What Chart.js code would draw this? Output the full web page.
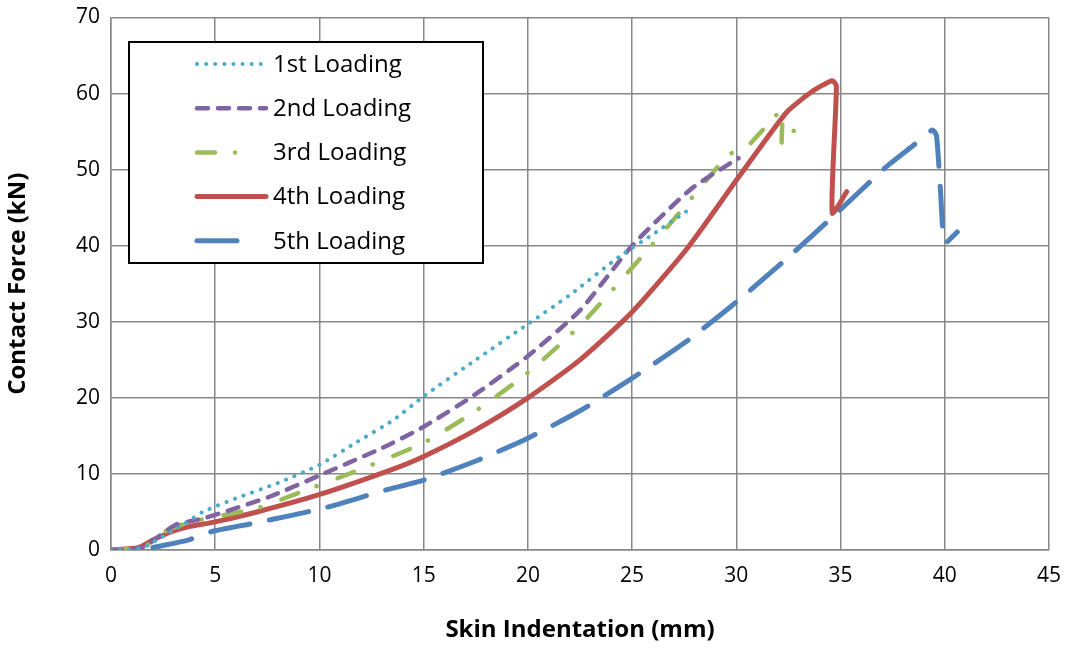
<!DOCTYPE html>
<html>
<head>
<meta charset="utf-8">
<script src="https://cdn.jsdelivr.net/npm/chart.js@4/dist/chart.umd.min.js"></script>
<style>
  html, body { margin: 0; padding: 0; background: #fff; }
  #wrap { width: 1068px; height: 649px; }
</style>
</head>
<body>
<div id="wrap"><canvas id="c" width="1068" height="649"></canvas></div>
<script>
  // series: x = skin indentation (mm), y = contact force (kN)
  const seriesNames = ["1st Loading", "2nd Loading", "3rd Loading", "4th Loading", "5th Loading"];

  const load1X = [0, 1.5, 2.5, 3.5, 4.4, 6, 8, 10, 11.8, 13.5, 15, 17.5, 20, 22, 24.4, 26, 27.6];
  const load1Y = [0, 0.3, 1.8, 3.4, 5.0, 6.8, 8.8, 11.2, 14.2, 17.0, 20.2, 25.0, 29.7, 33.5, 38.6, 41.5, 44.5];

  const load2X = [0, 1.5, 2.3, 3.1, 4.5, 7.6, 10, 13, 15, 17.5, 20, 22.5, 25, 27.8, 29.8, 30.1];
  const load2Y = [0, 0.3, 1.8, 3.3, 4.2, 7.0, 9.8, 13.4, 16.2, 20.5, 25.5, 31.5, 40.0, 47.4, 51.0, 51.5];

  const load3X = [0, 1.5, 2.2, 2.7, 4, 7, 9, 11.5, 15, 17.5, 20, 22.5, 24.9, 26.3, 28.6, 29.4, 30.0, 30.5, 30.8, 31.6, 32.2, 32.2, 33.0];
  const load3Y = [0, 0.3, 1.5, 2.6, 3.8, 5.5, 7.5, 10.1, 14.1, 18.3, 23.3, 29.5, 36.8, 41.2, 48.7, 51.3, 52.6, 53.0, 53.8, 56.2, 57.8, 53.3, 56.0];

  const load4X = [0, 1.3, 2, 2.9, 3.8, 5, 7, 9.9, 13.4, 15, 17.5, 20, 22.5, 25, 27.6, 30, 32.4, 33.6, 34.6, 34.8, 34.6, 35.3];
  const load4Y = [0, 0.3, 1.3, 2.4, 3.1, 3.7, 5.0, 7.2, 10.5, 12.3, 15.8, 20.0, 25.0, 31.3, 39.5, 48.6, 57.5, 60.2, 61.7, 61.0, 44.3, 47.1];

  const load5X = [0, 1.5, 2.5, 3.7, 4.8, 7, 10.2, 13.2, 15, 17.5, 20, 22.5, 24.9, 27.6, 30, 32.5, 34.9, 37.2, 38.5, 39.4, 39.6, 39.8, 40.0, 40.6];
  const load5Y = [0, 0.1, 0.6, 1.3, 2.4, 3.6, 5.5, 7.9, 9.2, 11.7, 14.7, 18.3, 22.4, 27.4, 32.6, 38.5, 44.5, 50.4, 53.2, 55.2, 54.5, 47.0, 40.4, 41.8];

  const xTicks = [0, 5, 10, 15, 20, 25, 30, 35, 40, 45];
  const yTicks = [0, 10, 20, 30, 40, 50, 60, 70];

  const FONT = "'Open Sans', 'Noto Sans', sans-serif";

  function pts(xs, ys) {
    return xs.map((x, i) => ({ x: x, y: ys[i] }));
  }

  const styles = [
    { color: "#4BACC6", width: 4, dash: [0.1, 9], offset: 0 },
    { color: "#8064A2", width: 4.5, dash: [11, 10], offset: 0 },
    { color: "#9BBB59", width: 4.5, dash: [18, 20, 0.1, 22], offset: 0 },
    { color: "#C0504D", width: 5, dash: [], offset: 0 },
    { color: "#4F81BD", width: 5, dash: [40, 20], offset: 18 }
  ];

  const allX = [load1X, load2X, load3X, load4X, load5X];
  const allY = [load1Y, load2Y, load3Y, load4Y, load5Y];

  // legend box drawn inside the plot, like the original
  const boxLegend = {
    id: "boxLegend",
    afterDatasetsDraw(chart) {
      const ctx = chart.ctx;
      ctx.save();
      ctx.fillStyle = "#fff";
      ctx.fillRect(129, 42, 354, 221);
      ctx.strokeStyle = "#000";
      ctx.lineWidth = 2;
      ctx.setLineDash([]);
      ctx.strokeRect(129, 42, 354, 221);
      seriesNames.forEach((name, i) => {
        const y = 64 + i * 44.2;
        const s = styles[i];
        ctx.beginPath();
        ctx.strokeStyle = s.color;
        ctx.lineWidth = s.width;
        ctx.lineCap = "round";
        ctx.setLineDash(s.dash);
        ctx.lineDashOffset = 0;
        ctx.moveTo(197, y);
        ctx.lineTo(i === 2 ? 246 : (i === 4 ? 244 : 266), y);
        ctx.stroke();
        ctx.setLineDash([]);
        ctx.fillStyle = "#000";
        ctx.font = "24px " + FONT;
        ctx.textBaseline = "middle";
        ctx.fillText(name, 273, y + 1);
      });
      ctx.restore();
    }
  };

  new Chart(document.getElementById("c"), {
    type: "scatter",
    data: {
      datasets: seriesNames.map((name, i) => ({
        label: name,
        data: pts(allX[i], allY[i]),
        showLine: true,
        borderColor: styles[i].color,
        borderWidth: styles[i].width,
        borderDash: styles[i].dash,
        borderDashOffset: styles[i].offset,
        borderCapStyle: "round",
        borderJoinStyle: "round",
        tension: 0.2,
        pointRadius: 0,
        pointHoverRadius: 0,
        fill: false
      }))
    },
    options: {
      responsive: false,
      animation: false,
      layout: { padding: { top: 17.5, right: 19, left: 0, bottom: 0 } },
      plugins: {
        legend: { display: false },
        tooltip: { enabled: false }
      },
      scales: {
        x: {
          type: "linear",
          min: 0,
          max: 45,
          afterBuildTicks: (s) => { s.ticks = xTicks.map((v) => ({ value: v })); },
          afterFit: (s) => { s.height = 99; s.paddingLeft = 0; s.paddingRight = 0; },
          grid: { color: "#878787", lineWidth: 1.5, drawTicks: false },
          border: { color: "#878787", width: 1.5 },
          ticks: { color: "#000", padding: 13, font: { family: FONT, size: 21 } },
          title: {
            display: true,
            text: "Skin Indentation (mm)",
            color: "#000",
            font: { family: FONT, size: 24, weight: "bold" },
            padding: { top: 8 }
          }
        },
        y: {
          type: "linear",
          min: 0,
          max: 70,
          afterBuildTicks: (s) => { s.ticks = yTicks.map((v) => ({ value: v })); },
          afterFit: (s) => { s.width = 111; s.paddingTop = 0; s.paddingBottom = 0; },
          grid: { color: "#878787", lineWidth: 1.5, drawTicks: false },
          border: { color: "#878787", width: 1.5 },
          ticks: { color: "#000", padding: 11, font: { family: FONT, size: 21 } },
          title: {
            display: true,
            text: "Contact Force (kN)",
            color: "#000",
            font: { family: FONT, size: 24, weight: "bold" },
            padding: { bottom: 8 }
          }
        }
      }
    },
    plugins: [boxLegend]
  });
</script>
</body>
</html>
